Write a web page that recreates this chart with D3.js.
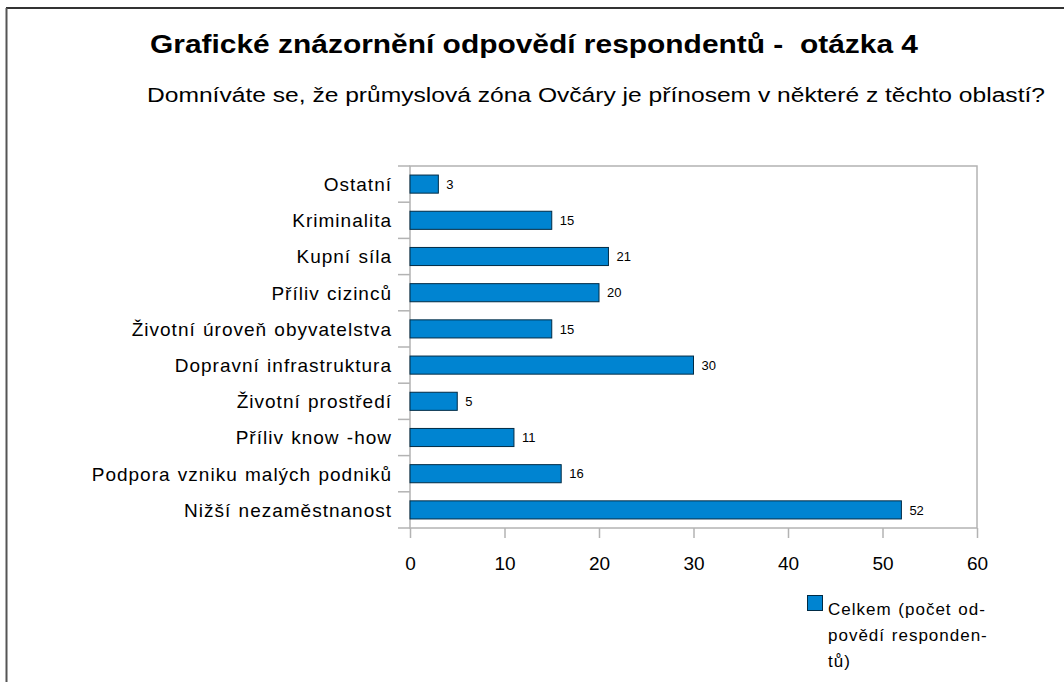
<!DOCTYPE html>
<html>
<head>
<meta charset="utf-8">
<script src="https://cdn.jsdelivr.net/npm/d3@7"></script>
<style>
  body { margin: 0; background: #fff; }
  text { font-family: "Liberation Sans", Arial, sans-serif; fill: #000; }
</style>
</head>
<body>
<div id="chart"></div>
<script>
// answers to question 4, top to bottom as drawn
var categories = ["Ostatní", "Kriminalita", "Kupní síla", "Příliv cizinců",
  "Životní úroveň obyvatelstva", "Dopravní infrastruktura", "Životní prostředí",
  "Příliv know -how", "Podpora vzniku malých podniků", "Nižší nezaměstnanost"];
var values = [3, 15, 21, 20, 15, 30, 5, 11, 16, 52];
var tickVals = [0, 10, 20, 30, 40, 50, 60];
var legendLines = ["Celkem (počet od-", "povědí responden-", "tů)"];
var title = "Grafické znázornění odpovědí respondentů -  otázka 4";
var subtitle = "Domníváte se, že průmyslová zóna Ovčáry je přínosem v některé z těchto oblastí?";

var width = 1064, height = 682;
var plot = { left: 410, right: 977, top: 166, bottom: 528 };

var svg = d3.select("#chart").append("svg")
  .attr("width", width)
  .attr("height", height);

// outer frame, only top and left edges show
svg.append("line").attr("x1", 6).attr("x2", width).attr("y1", 8).attr("y2", 8)
  .style("stroke", "#333").style("stroke-width", 2);
svg.append("line").attr("x1", 6.5).attr("x2", 6.5).attr("y1", 8).attr("y2", height)
  .style("stroke", "#555").style("stroke-width", 2);

// titles are squeezed to the width seen in the picture
svg.append("text").attr("x", 150).attr("y", 53)
  .attr("xml:space", "preserve")
  .attr("textLength", 768).attr("lengthAdjust", "spacingAndGlyphs")
  .style("font-size", "25px").style("font-weight", "bold").text(title);
svg.append("text").attr("x", 147).attr("y", 102)
  .attr("textLength", 898).attr("lengthAdjust", "spacingAndGlyphs")
  .style("font-size", "20px").text(subtitle);

var x = d3.scaleLinear().domain([0, 60]).range([plot.left, plot.right]);
var y = d3.scaleBand().domain(categories).range([plot.top, plot.bottom])
  .paddingInner(0.5).paddingOuter(0.25);

// plot border
svg.append("rect")
  .attr("x", plot.left).attr("y", plot.top)
  .attr("width", plot.right - plot.left).attr("height", plot.bottom - plot.top)
  .style("fill", "none").style("stroke", "#b3b3b3").style("stroke-width", 1.5);

// category ticks on band boundaries
var bounds = categories.map(function(c) { return y(c) - y.step() * 0.25; });
bounds.push(plot.bottom);
svg.selectAll(".ctick").data(bounds).enter().append("line")
  .attr("x1", plot.left - 12).attr("x2", plot.left)
  .attr("y1", function(d) { return d; }).attr("y2", function(d) { return d; })
  .style("stroke", "#b3b3b3").style("stroke-width", 1.5);

// x axis
var xAxis = svg.append("g")
  .attr("transform", "translate(0," + plot.bottom + ")")
  .call(d3.axisBottom(x).tickValues(tickVals).tickSize(10).tickPadding(19));
xAxis.select(".domain").remove();
xAxis.selectAll("line").style("stroke", "#b3b3b3").style("stroke-width", 1.5);
xAxis.selectAll("text").style("font-size", "19px")
  .style("font-family", "Liberation Sans, Arial, sans-serif").attr("fill", "#000");

// category labels
svg.selectAll(".clabel").data(categories).enter().append("text")
  .attr("x", plot.left - 18)
  .attr("y", function(d) { return y(d) + y.bandwidth() / 2; })
  .attr("dy", "0.36em")
  .attr("text-anchor", "end")
  .style("font-size", "19px")
  .style("letter-spacing", "1px")
  .style("word-spacing", "1px")
  .text(function(d) { return d; });

// bars
svg.selectAll(".bar").data(values).enter().append("rect")
  .attr("x", x(0))
  .attr("y", function(d, i) { return y(categories[i]); })
  .attr("width", function(d) { return x(d) - x(0); })
  .attr("height", y.bandwidth())
  .style("fill", "#0084d1")
  .style("stroke", "#002b45").style("stroke-width", 1);

// value labels
svg.selectAll(".vlabel").data(values).enter().append("text")
  .attr("x", function(d) { return x(d) + 8; })
  .attr("y", function(d, i) { return y(categories[i]) + y.bandwidth() / 2; })
  .attr("dy", "0.36em")
  .style("font-size", "13px")
  .text(function(d) { return d; });

// legend
svg.append("rect").attr("x", 807.5).attr("y", 595.5).attr("width", 15).attr("height", 15)
  .style("fill", "#0084d1").style("stroke", "#002b45");
svg.selectAll(".leg").data(legendLines).enter().append("text")
  .attr("x", 828)
  .attr("y", function(d, i) { return 615 + i * 26; })
  .style("font-size", "17px")
  .style("letter-spacing", "1px")
  .style("word-spacing", "1px")
  .text(function(d) { return d; });
</script>
</body>
</html>
